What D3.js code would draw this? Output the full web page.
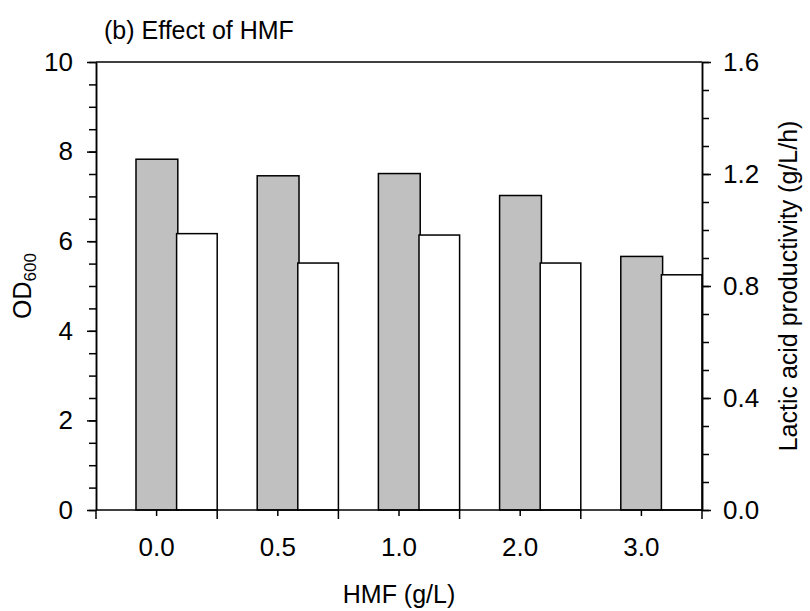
<!DOCTYPE html>
<html>
<head>
<meta charset="utf-8">
<script src="https://cdn.jsdelivr.net/npm/d3@7"></script>
<style>
  html, body { margin: 0; padding: 0; background: #fff; }
  text { font-family: "Liberation Sans", Arial, sans-serif; fill: #000; }
</style>
</head>
<body>
<svg id="chart" width="810" height="611"></svg>
<script>
// ---- data ----
const categories = ["0.0", "0.5", "1.0", "2.0", "3.0"];
const od600 = [7.83, 7.46, 7.51, 7.02, 5.66];
const productivity = [0.987, 0.882, 0.982, 0.882, 0.84];
const leftTicks = [0, 2, 4, 6, 8, 10];
const rightTicks = [0.0, 0.4, 0.8, 1.2, 1.6];
const title = "(b) Effect of HMF";
const xTitle = "HMF (g/L)";
const rightTitle = "Lactic acid productivity (g/L/h)";

// ---- layout ----
const svg = d3.select("#chart");
const L = 96, R = 702, T = 62, B = 510;

const x = d3.scaleBand().domain(categories).range([L, R]).padding(0);
const yL = d3.scaleLinear().domain([0, 10]).range([B, T]);
const yR = d3.scaleLinear().domain([0, 1.6]).range([B, T]);
const bw = x.bandwidth();

// ---- bars ----
const g = svg.append("g");
g.selectAll("rect.od").data(categories).join("rect")
  .attr("class", "od")
  .attr("x", (d) => x(d) + bw * 0.33)
  .attr("width", bw * 0.345)
  .attr("y", (d, i) => yL(od600[i]))
  .attr("height", (d, i) => yL(0) - yL(od600[i]))
  .attr("fill", "#c0c0c0").attr("stroke", "#000").attr("stroke-width", 1.5);

g.selectAll("rect.pr").data(categories).join("rect")
  .attr("class", "pr")
  .attr("x", (d) => x(d) + bw * 0.665)
  .attr("width", bw * 0.335)
  .attr("y", (d, i) => yR(productivity[i]))
  .attr("height", (d, i) => yR(0) - yR(productivity[i]))
  .attr("fill", "#fff").attr("stroke", "#000").attr("stroke-width", 1.5);

// ---- axes ----
const fontSize = "26px";
function styleAxis(sel) {
  sel.selectAll("path.domain").attr("stroke", "#000").attr("stroke-width", 1.5);
  sel.selectAll(".tick line").attr("stroke", "#000").attr("stroke-width", 1.5);
  sel.selectAll(".tick text").style("font-size", fontSize)
    .style("font-family", '"Liberation Sans", Arial, sans-serif').attr("fill", "#000");
}

// left minor
svg.append("g").attr("transform", `translate(${L},0)`)
  .call(d3.axisLeft(yL).tickValues(d3.range(0, 10.01, 0.5)).tickSize(7).tickFormat("").tickSizeOuter(0))
  .call(styleAxis);
// left major
svg.append("g").attr("transform", `translate(${L},0)`)
  .call(d3.axisLeft(yL).tickValues(leftTicks).tickSize(9).tickPadding(14).tickSizeOuter(0).tickFormat(d3.format("d")))
  .call(styleAxis);

// right minor
svg.append("g").attr("transform", `translate(${R},0)`)
  .call(d3.axisRight(yR).tickValues(d3.range(0, 1.601, 0.1)).tickSize(7).tickFormat("").tickSizeOuter(0))
  .call(styleAxis);
// right major
svg.append("g").attr("transform", `translate(${R},0)`)
  .call(d3.axisRight(yR).tickValues(rightTicks).tickSize(9).tickPadding(12).tickSizeOuter(0).tickFormat(d3.format(".1f")))
  .call(styleAxis);

// bottom: labels + center ticks
const bottom = svg.append("g").attr("transform", `translate(0,${B})`)
  .call(d3.axisBottom(x).tickSize(6).tickPadding(22).tickSizeOuter(0))
  .call(styleAxis);
bottom.select("path.domain").remove();

// band boundary ticks
const bounds = categories.map((c) => x(c)).concat([x(categories[categories.length - 1]) + bw]);
svg.append("g").selectAll("line").data(bounds).join("line")
  .attr("x1", (d) => d).attr("x2", (d) => d)
  .attr("y1", B).attr("y2", B + 9)
  .attr("stroke", "#000").attr("stroke-width", 1.5);

// frame lines: bottom and top
svg.append("line").attr("x1", L).attr("x2", R).attr("y1", B).attr("y2", B)
  .attr("stroke", "#000").attr("stroke-width", 1.5);
svg.append("line").attr("x1", L).attr("x2", R).attr("y1", T).attr("y2", T)
  .attr("stroke", "#000").attr("stroke-width", 1.5);

// ---- titles ----
svg.append("text").attr("x", 104).attr("y", 39)
  .style("font-size", "25px").text(title);

svg.append("text").attr("x", (L + R) / 2).attr("y", 603)
  .attr("text-anchor", "middle").style("font-size", "25px").text(xTitle);

const ly = svg.append("text")
  .attr("transform", `translate(31,${(T + B) / 2}) rotate(-90)`)
  .attr("text-anchor", "middle").style("font-size", "25px");
ly.append("tspan").text("OD");
ly.append("tspan").attr("dy", 5).style("font-size", "17px").text("600");

svg.append("text")
  .attr("transform", `translate(797,${(T + B) / 2}) rotate(-90)`)
  .attr("text-anchor", "middle").style("font-size", "25px").text(rightTitle);
</script>
</body>
</html>
